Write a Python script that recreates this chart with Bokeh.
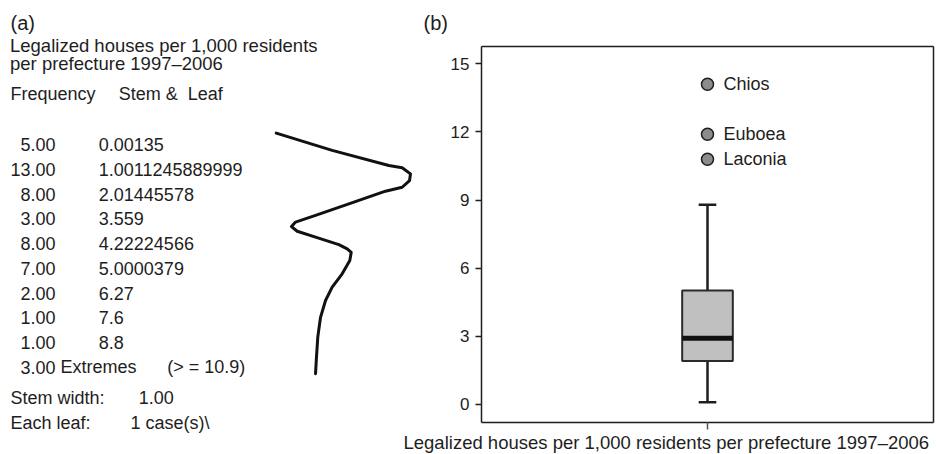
from bokeh.plotting import figure
from bokeh.models import Range1d, FixedTicker, LinearAxis
from bokeh.embed import file_html
from bokeh.resources import INLINE
from bokeh.core.properties import value

FONT = "Liberation Sans"
INK = "#1e1e1e"

# ---------------- data ----------------
# (a) stem-and-leaf display
freq = [5, 13, 8, 3, 8, 7, 2, 1, 1]
stems = [0, 1, 2, 3, 4, 5, 6, 7, 8]
leaves = ["00135", "0011245889999", "01445578", "559", "22224566",
          "0000379", "27", "6", "8"]
n_extremes = 3
extreme_cut = 10.9
stem_width = 1.00
cases_per_leaf = 1

# smoothed outline drawn beside the display:
# horizontal position in frequency-like units, vertical in stem rows
curve_f = [1.66, 6.36, 11.12, 12.24, 12.94, 12.86, 12.24, 10.84, 7.76, 4.96,
           3.28, 2.94, 3.42, 4.96, 6.92, 7.62, 7.96, 7.84, 7.20, 6.36,
           5.80, 5.38, 5.15, 5.04, 4.96]
curve_s = [-0.47, 0.23, 0.84, 0.93, 1.18, 1.45, 1.72, 1.88, 2.39, 2.86,
           3.13, 3.31, 3.50, 3.74, 4.04, 4.21, 4.35, 4.68, 5.22, 5.76,
           6.30, 6.98, 7.78, 8.59, 9.26]

# (b) box plot
box_q1 = 1.91
box_median = 2.92
box_q3 = 5.02
whisker_lo = 0.1
whisker_hi = 8.8
outlier_names = ["Chios", "Euboea", "Laconia"]
outlier_vals = [14.1, 11.9, 10.8]
y_ticks = [0, 3, 6, 9, 12, 15]
val_lo, val_hi = -0.79, 15.77          # extent of the plotting box
axis_title = "Legalized houses per 1,000 residents per prefecture 1997\u20132006"
header_1 = "Legalized houses per 1,000 residents"
header_2 = "per prefecture 1997\u20132006"

# ---------------- one canvas, page-pixel base ranges ----------------
W, H = 936, 454
p = figure(width=W, height=H, output_backend="svg", toolbar_location=None,
           title=None, x_axis_type=None, y_axis_type=None,
           x_range=Range1d(0, W), y_range=Range1d(H, 0),
           min_border=0, outline_line_color=None,
           background_fill_color="white", border_fill_color="white")
p.grid.visible = False

# coordinate systems for the two panels
p.extra_x_ranges = {
    "freq": Range1d(-21.513, 57.143),
    "boxx": Range1d(-2.1283, 2.01327),
}
p.extra_y_ranges = {
    "stem": Range1d(12.527, -5.831),
    "val": Range1d(-2.2017, 17.7895),
}

common = dict(text_font=value(FONT), text_color=INK, text_baseline="middle",
              y_range_name="stem")

# ---- (a) ----
p.text(x=[10], y=[-4.92], text=["(a)"], text_font_size="20px", **common)
p.text(x=[9.5, 9.5], y=[-4.01, -3.28], text=[header_1, header_2],
       text_font_size="18.5px", **common)
p.text(x=[10, 118.3], y=[-2.07, -2.07], text=["Frequency", "Stem &\u00a0 Leaf"],
       text_font_size="18px", **common)

rows = list(range(len(freq)))
p.text(x=[55] * len(freq), y=rows, text=[f"{f:.2f}" for f in freq],
       text_font_size="18px", text_align="right", **common)
p.text(x=[98.3] * len(freq), y=rows,
       text=[f"{s}.{lf}" for s, lf in zip(stems, leaves)],
       text_font_size="18px", **common)

ext_row = len(freq)
p.text(x=[55], y=[ext_row], text=[f"{n_extremes:.2f}"], text_font_size="18px",
       text_align="right", **common)
p.text(x=[60, 166.7], y=[ext_row, ext_row],
       text=["Extremes", f"(> = {extreme_cut})"], text_font_size="18px", **common)

p.text(x=[10, 138.3], y=[10.24, 10.24], text=["Stem width:", f"{stem_width:.2f}"],
       text_font_size="18px", **common)
p.text(x=[10, 130], y=[11.24, 11.24],
       text=["Each leaf:", f"{cases_per_leaf} case(s)\\"],
       text_font_size="18px", **common)

p.line(curve_f, curve_s, x_range_name="freq", y_range_name="stem",
       line_width=3, line_color="#111111", line_join="round", line_cap="round")

# ---- (b) ----
p.text(x=[423], y=[22.5], text=["(b)"], text_font=value(FONT),
       text_font_size="20px", text_color=INK, text_baseline="middle")

bx = dict(x_range_name="boxx", y_range_name="val")

def frame_axis(side, loc, bounds, ticks):
    ax = LinearAxis(fixed_location=loc, bounds=bounds,
                    ticker=FixedTicker(ticks=ticks), **bx)
    ax.axis_line_color = INK
    ax.axis_line_width = 1.5
    ax.minor_tick_line_color = None
    ax.major_tick_in = 0
    ax.major_tick_line_color = INK
    ax.major_tick_line_width = 1.5
    ax.major_label_text_font = FONT
    ax.major_label_text_color = INK
    p.add_layout(ax, side)
    return ax

yax = frame_axis("left", 0, (val_lo, val_hi), y_ticks)
yax.major_tick_out = 6
yax.major_label_standoff = 6
yax.major_label_text_font_size = "17px"

xax = frame_axis("below", val_lo, (0, 2), [1])
xax.major_tick_out = 7
xax.major_tick_line_color = "#555555"
xax.major_label_overrides = {1: ""}
xax.major_label_text_color = None
xax.major_label_standoff = 0

for side, loc, bnds in (("above", val_hi, (0, 2)), ("right", 2, (val_lo, val_hi))):
    ax = frame_axis(side, loc, bnds, [])
    ax.major_tick_line_color = None
    ax.major_label_text_color = None
    ax.major_label_standoff = 0

xc = 1
box_w = 0.224
cap_w = 0.078
# whiskers
p.segment(x0=[xc, xc], y0=[box_q3, box_q1], x1=[xc, xc], y1=[whisker_hi, whisker_lo],
          line_color=INK, line_width=2.5, **bx)
p.segment(x0=[xc - cap_w / 2] * 2, y0=[whisker_hi, whisker_lo],
          x1=[xc + cap_w / 2] * 2, y1=[whisker_hi, whisker_lo],
          line_color=INK, line_width=2.5, **bx)
# box
p.vbar(x=[xc], width=box_w, bottom=[box_q1], top=[box_q3],
       fill_color="#c0c0c0", line_color="#2a2a2a", line_width=2, **bx)
p.segment(x0=[xc - box_w / 2], y0=[box_median], x1=[xc + box_w / 2], y1=[box_median],
          line_color="#111111", line_width=5, **bx)
# outliers
p.scatter(x=[xc] * len(outlier_vals), y=outlier_vals, size=12,
          fill_color="#8c8c8c", line_color=INK, line_width=1.5, **bx)
p.text(x=[xc] * len(outlier_vals), y=outlier_vals, text=outlier_names,
       x_offset=16, text_font=value(FONT), text_font_size="18px",
       text_color=INK, text_baseline="middle", **bx)

# axis title (wider than the box, so set as text below it)
p.text(x=[403], y=[441.5], text=[axis_title], text_font=value(FONT),
       text_font_size="18.5px", text_color=INK, text_baseline="middle")

open("out.html", "w").write(file_html(p, INLINE))
